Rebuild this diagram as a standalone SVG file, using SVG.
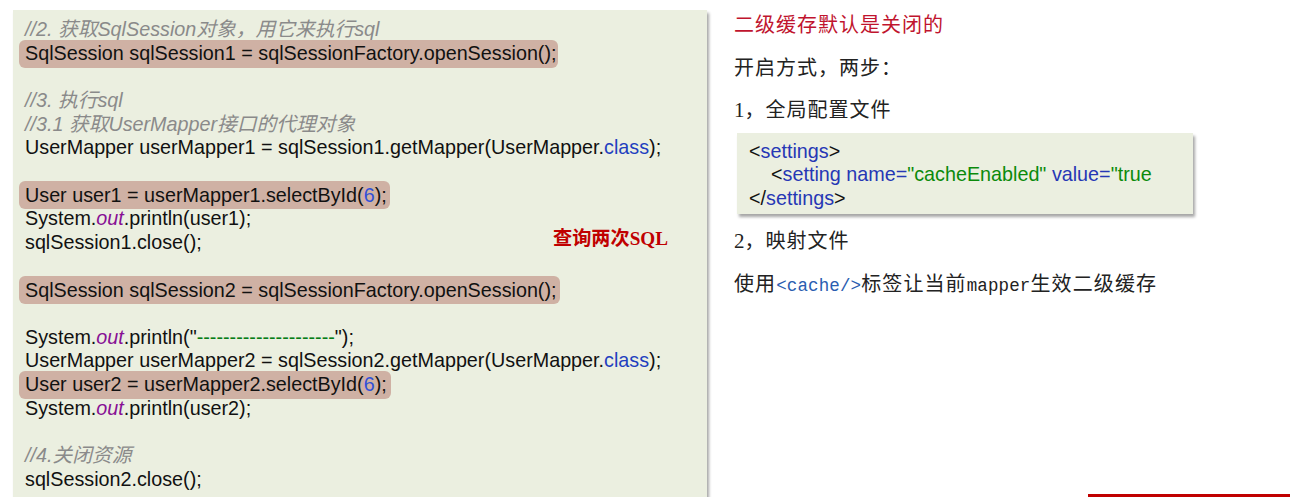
<svg xmlns="http://www.w3.org/2000/svg" width="1290" height="497" viewBox="0 0 1290 497">
<defs>
<filter id="sh" x="-5%" y="-5%" width="110%" height="120%">
<feDropShadow dx="2" dy="3" stdDeviation="1.5" flood-color="#000" flood-opacity="0.35"/>
</filter>
</defs>
<style>
.code{font-family:"Liberation Sans","Noto Sans CJK SC",sans-serif;font-size:19.75px;fill:#111}
.cm{fill:#8a8a8a;font-style:italic}
.out{fill:#871094;font-style:italic}
.kw{fill:#1f3fbf}
.num{fill:#3050d8}
.str{fill:#067d17}
.hl{fill:#cfb1a4}
.cn{font-family:"Noto Sans CJK SC",sans-serif;font-size:20px;letter-spacing:1px;fill:#222}
.mono{font-family:"Liberation Mono",monospace;font-size:17.5px;letter-spacing:0}
.tag{fill:#2637b5}
.val{fill:#0b8a0b}
.xml{font-family:"Liberation Sans",sans-serif;font-size:19.75px;fill:#111}
</style>
<rect width="1290" height="497" fill="#fff"/>
<g id="code-panel">
<rect x="13" y="10" width="694" height="490" fill="#ebefe0" filter="url(#sh)"/>
<rect class="hl" x="19" y="40" width="539" height="28" rx="6"/>
<rect class="hl" x="19" y="181" width="371" height="28" rx="6"/>
<rect class="hl" x="19" y="276" width="541" height="28" rx="6"/>
<rect class="hl" x="19" y="371" width="372" height="28" rx="6"/>
<text class="code" x="25" y="36"><tspan class="cm">//2. 获取SqlSession对象，用它来执行sql</tspan></text>
<text class="code" x="25" y="60">SqlSession sqlSession1 = sqlSessionFactory.openSession();</text>
<text class="code" x="25" y="107"><tspan class="cm">//3. 执行sql</tspan></text>
<text class="code" x="25" y="131"><tspan class="cm">//3.1 获取UserMapper接口的代理对象</tspan></text>
<text class="code" x="25" y="154">UserMapper userMapper1 = sqlSession1.getMapper(UserMapper.<tspan class="kw">class</tspan>);</text>
<text class="code" x="25" y="202">User user1 = userMapper1.selectById(<tspan class="num">6</tspan>);</text>
<text class="code" x="25" y="225">System.<tspan class="out">out</tspan>.println(user1);</text>
<text class="code" x="25" y="249">sqlSession1.close();</text>
<text class="code" x="25" y="297">SqlSession sqlSession2 = sqlSessionFactory.openSession();</text>
<text class="code" x="25" y="344">System.<tspan class="out">out</tspan>.println("<tspan class="str">---------------------</tspan>");</text>
<text class="code" x="25" y="367">UserMapper userMapper2 = sqlSession2.getMapper(UserMapper.<tspan class="kw">class</tspan>);</text>
<text class="code" x="25" y="391">User user2 = userMapper2.selectById(<tspan class="num">6</tspan>);</text>
<text class="code" x="25" y="415">System.<tspan class="out">out</tspan>.println(user2);</text>
<text class="code" x="25" y="462"><tspan class="cm">//4.关闭资源</tspan></text>
<text class="code" x="25" y="486">sqlSession2.close();</text>
</g>
<g id="note-sql">
<text x="553" y="245" font-family="Liberation Serif,'Noto Sans CJK SC',serif" font-size="19px" font-weight="bold" fill="#c00000" textLength="115" lengthAdjust="spacingAndGlyphs">查询两次SQL</text>
</g>
<g id="right-notes">
<text class="cn" x="734" y="32" style="fill:#c0142e">二级缓存默认是关闭的</text>
<text class="cn" x="734" y="75">开启方式，两步：</text>
<text class="cn" x="734" y="117"><tspan style="font-family:'Liberation Serif',serif;font-size:21px;letter-spacing:0">1</tspan>，全局配置文件</text>
<text class="cn" x="734" y="248"><tspan style="font-family:'Liberation Serif',serif;font-size:21px;letter-spacing:0">2</tspan>，映射文件</text>
<text class="cn" x="734" y="291" textLength="423" lengthAdjust="spacing">使用<tspan class="mono" fill="#2a5db0">&lt;cache/&gt;</tspan>标签让当前<tspan class="mono">mapper</tspan>生效二级缓存</text>
</g>
<g id="settings-box">
<rect x="737" y="133" width="456" height="81" fill="#ebefe0" filter="url(#sh)"/>
<text class="xml" x="749" y="158">&lt;<tspan class="tag">settings</tspan>&gt;</text>
<text class="xml" x="771" y="181">&lt;<tspan class="tag">setting name=</tspan><tspan class="val">"cacheEnabled"</tspan><tspan class="tag"> value=</tspan><tspan class="val">"true</tspan></text>
<text class="xml" x="749" y="205">&lt;/<tspan class="tag">settings</tspan>&gt;</text>
</g>
<rect x="1088" y="494" width="202" height="3" fill="#c00000"/>
</svg>
